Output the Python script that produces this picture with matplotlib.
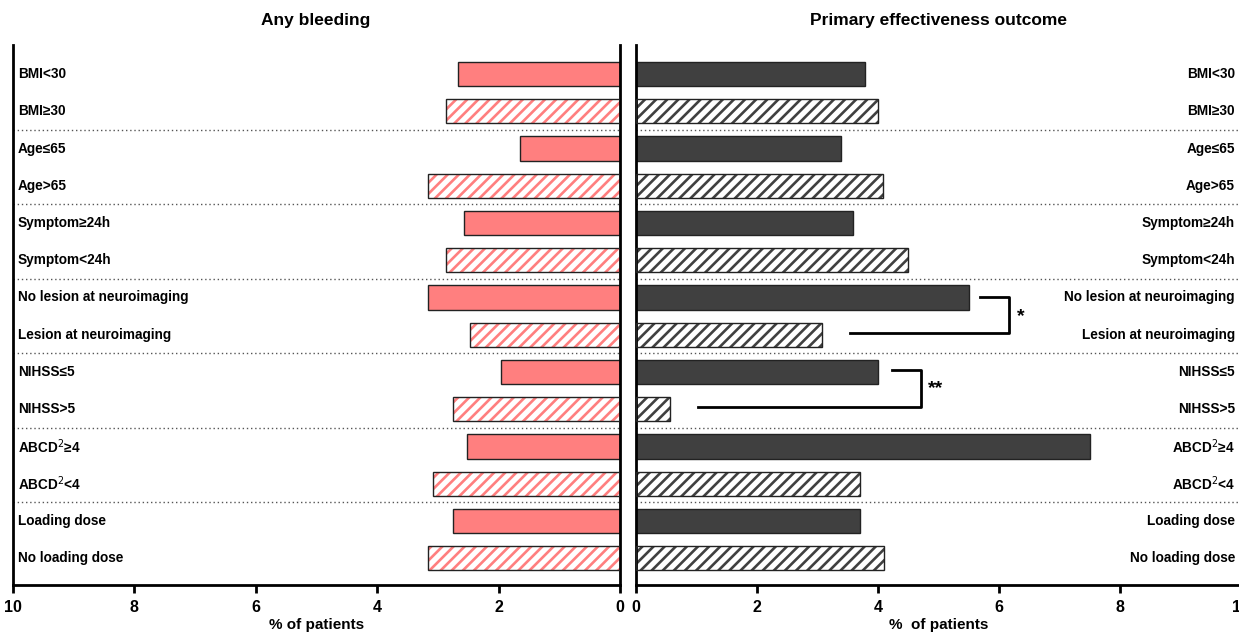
import matplotlib.pyplot as plt
from matplotlib.transforms import blended_transform_factory

plt.rcParams['font.family'] = ['Liberation Sans', 'DejaVu Sans']
plt.rcParams['hatch.linewidth'] = 1.9

labels = ["BMI<30", "BMI≥30", "Age≤65", "Age>65", "Symptom≥24h", "Symptom<24h",
          "No lesion at neuroimaging", "Lesion at neuroimaging", "NIHSS≤5", "NIHSS>5",
          "ABCD$^2$≥4", "ABCD$^2$<4", "Loading dose", "No loading dose"]
bleeding = [2.67, 2.87, 1.65, 3.16, 2.57, 2.87, 3.16, 2.47, 1.96, 2.75, 2.52, 3.08, 2.75, 3.16]
effectiveness = [3.79, 4.0, 3.39, 4.08, 3.59, 4.5, 5.5, 3.07, 4.0, 0.57, 7.5, 3.7, 3.7, 4.1]
ticks = [0, 2, 4, 6, 8, 10]

pink = "#ff7f7f"
dark = "#404040"
edge = "#222222"

fig = plt.figure(figsize=(12.39, 6.32), dpi=100)
axL = fig.add_axes([13 / 1239, 1 - 585 / 632, 607 / 1239, 540 / 632])
axR = fig.add_axes([636 / 1239, 1 - 585 / 632, 605 / 1239, 540 / 632])

y = list(range(len(labels)))
solid = y[0::2]
hatched = y[1::2]


def draw(ax, vals, color):
    ax.barh(solid, [vals[i] for i in solid], height=0.65, color=color,
            edgecolor=edge, linewidth=1, zorder=2)
    ax.barh(hatched, [vals[i] for i in hatched], height=0.65, color="white",
            edgecolor=color, hatch="///", linewidth=0, zorder=2)
    ax.barh(hatched, [vals[i] for i in hatched], height=0.65, fill=False,
            edgecolor=edge, linewidth=1, zorder=3)
    for sep in [1.5, 3.5, 5.5, 7.5, 9.5, 11.5]:
        ax.axhline(sep, color="#555555", linestyle=(0, (1, 2)), linewidth=1, zorder=1)
    ax.set_ylim(13.72, -0.78)
    ax.set_yticks([])
    ax.set_xticks(ticks)
    ax.set_xticklabels([str(t) for t in ticks], fontsize=11.5, fontweight="bold")
    ax.tick_params(axis="x", direction="out", length=6, width=2, pad=5)
    ax.spines["top"].set_visible(False)
    for s in ax.spines.values():
        s.set_linewidth(2)


draw(axL, bleeding, pink)
axL.set_xlim(10, 0)
axL.set_xlabel("% of patients", fontsize=11, fontweight="bold", labelpad=2)

draw(axR, effectiveness, dark)
axR.set_xlim(0, 10)
axR.spines["right"].set_visible(False)
axR.set_xlabel("%  of patients", fontsize=11, fontweight="bold", labelpad=2)

trL = blended_transform_factory(axL.transAxes, axL.transData)
trR = blended_transform_factory(axR.transAxes, axR.transData)
for i, lab in enumerate(labels):
    axL.text(0.008, i, lab, transform=trL, ha="left", va="center",
             fontsize=9.8, fontweight="bold")
    axR.text(0.99, i, lab, transform=trR, ha="right", va="center",
             fontsize=9.8, fontweight="bold")

# significance brackets
axR.plot([5.69, 6.17, 6.17, 3.54], [6.0, 6.0, 6.95, 6.95], color="black", lw=2, clip_on=False)
axR.text(6.3, 6.5, "*", fontsize=14, fontweight="bold", ha="left", va="center")
axR.plot([4.23, 4.71, 4.71, 1.02], [7.95, 7.95, 8.95, 8.95], color="black", lw=2, clip_on=False)
axR.text(4.82, 8.45, "**", fontsize=14, fontweight="bold", ha="left", va="center")

fig.text(316 / 1239, 1 - 20 / 632, "Any bleeding", ha="center", va="center",
         fontsize=12.5, fontweight="bold")
fig.text(938 / 1239, 1 - 20 / 632, "Primary effectiveness outcome", ha="center",
         va="center", fontsize=12.5, fontweight="bold")

fig.savefig("out.png", dpi=100)
